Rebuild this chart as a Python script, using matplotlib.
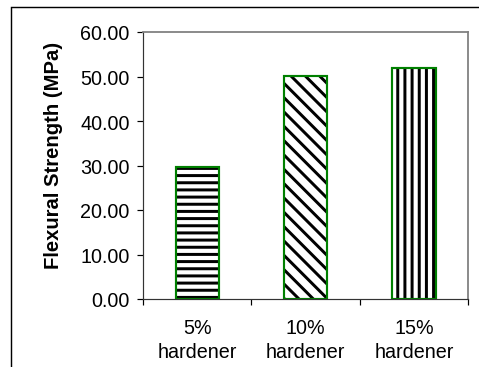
import numpy as np
import matplotlib
matplotlib.use('Agg')
import matplotlib.pyplot as plt
from matplotlib.patches import Rectangle

# data
categories = ['5%\nhardener', '10%\nhardener', '15%\nhardener']
strength = [29.7, 50.1, 51.8]
hatches = ['--', '\\\\', '||']
yticks = [0, 10, 20, 30, 40, 50, 60]

plt.rcParams['font.family'] = ['Liberation Sans', 'DejaVu Sans']
plt.rcParams['hatch.linewidth'] = 2.5

DPI = 86
fig = plt.figure(figsize=(479 / DPI, 368 / DPI), dpi=DPI)
ax = fig.add_axes([143 / 479, 68 / 368, 325 / 479, 267 / 368])

x = np.arange(len(categories))
# black hatch fill, then green outline on top
fill = ax.bar(x, strength, width=0.4, color='white', edgecolor='black', linewidth=0)
for b, h in zip(fill, hatches):
    b.set_hatch(h)
ax.bar(x, strength, width=0.4, fill=False, edgecolor='#008000', linewidth=1.8)

ax.set_xlim(-0.5, 2.5)
ax.set_ylim(0, 60)
ax.set_yticks(yticks)
ax.set_yticklabels(['%.2f' % v for v in yticks], fontsize=16.5)
ax.tick_params(axis='y', direction='out', length=5, width=1, pad=6)

ax.set_xticks(x)
ax.set_xticklabels(categories, fontsize=16.5, linespacing=1.3)
ax.tick_params(axis='x', which='major', length=0, pad=16)
ax.set_xticks([-0.5, 0.5, 1.5, 2.5], minor=True)
ax.tick_params(axis='x', which='minor', direction='out', length=5, width=1)

ax.set_ylabel('Flexural Strength (MPa)', fontsize=17, fontweight='bold')
ax.yaxis.set_label_coords(-0.245, 0.54)

for s in ['top', 'right']:
    ax.spines[s].set_color('#808080')
    ax.spines[s].set_linewidth(1.5)
for s in ['left', 'bottom']:
    ax.spines[s].set_color('#333333')
    ax.spines[s].set_linewidth(1)

# outer chart border
fig.patches.append(Rectangle((11 / 479, -0.1), 1.2, (360 / 368) + 0.1,
                             transform=fig.transFigure, fill=False,
                             edgecolor='black', linewidth=1.2))

fig.savefig('out.png', dpi=DPI)
